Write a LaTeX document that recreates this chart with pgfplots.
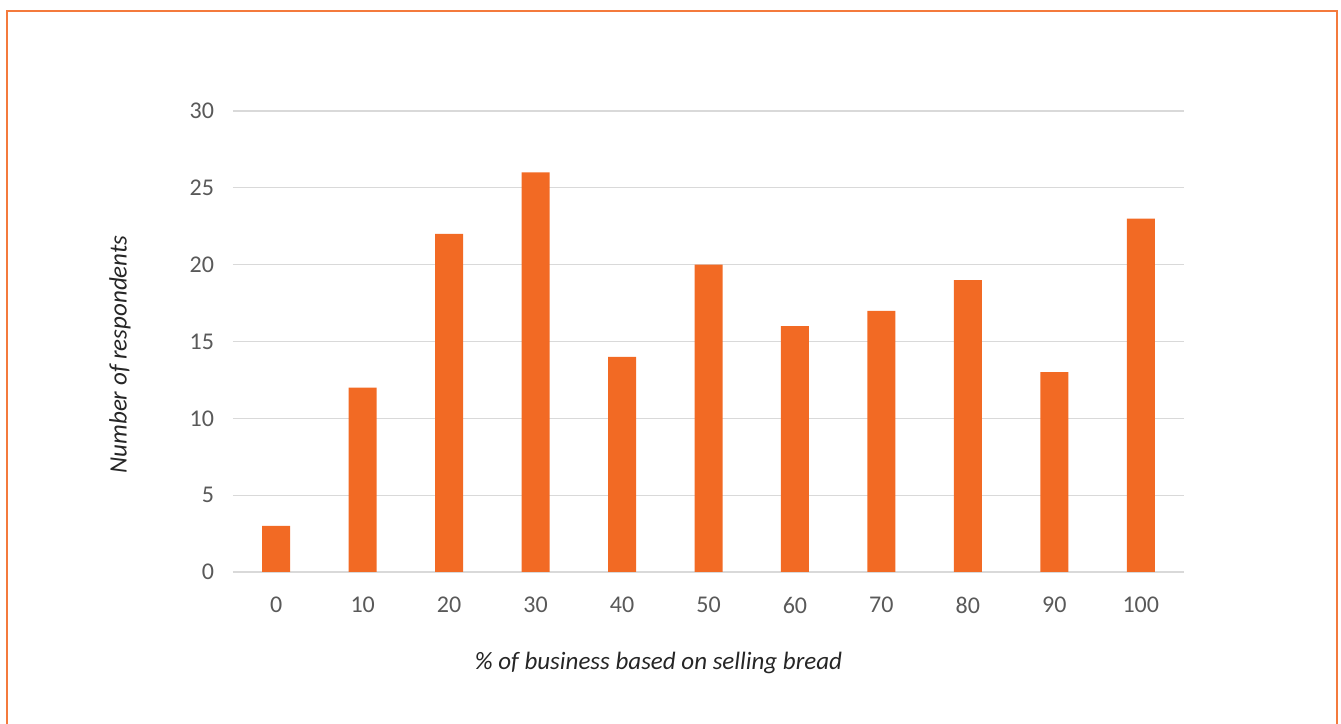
\documentclass[border=0pt]{standalone}
\usepackage{pgfplots}
\pgfplotsset{compat=1.18}
\usepackage{fontspec}
\setmainfont{Carlito}
\definecolor{barorange}{HTML}{F26A24}
\definecolor{frameorange}{HTML}{F47A3C}
\definecolor{gridgray}{HTML}{D9D9D9}
\definecolor{ticktext}{HTML}{595959}
\begin{document}
\begin{tikzpicture}
\useasboundingbox (0,0) rectangle (670.5pt,362pt);
\draw[frameorange, line width=1.3pt] (3.5pt,0pt) -- (3.5pt,356.5pt) -- (668.5pt,356.5pt) -- (668.5pt,0pt);
\begin{axis}[
  at={(116.5pt,76pt)}, anchor=south west,
  scale only axis, width=475.5pt, height=230.5pt,
  xmin=-0.5, xmax=10.5, ymin=0, ymax=30,
  ytick={0,5,...,30},
  xtick={0,1,...,10},
  xticklabels={0,10,20,30,40,50,60,70,80,90,100},
  axis line style={draw=none},
  ymajorgrids, grid style={gridgray, line width=0.6pt},
  major tick length=0pt,
  tick label style={font=\fontsize{12}{14}\selectfont, text=ticktext},
  /pgf/number format/assume math mode=true,
  xticklabel style={yshift=-9pt},
  yticklabel style={xshift=-6pt},
  xlabel={\textit{\% of business based on selling bread}},
  ylabel={\textit{Number of respondents}},
  label style={font=\fontsize{12.5}{14}\selectfont, text=black!85},
  xlabel style={at={(axis description cs:0.5,0)}, anchor=center, yshift=-45.5pt, xshift=-25pt},
  ylabel style={at={(axis description cs:0,0.5)}, anchor=center, yshift=56.5pt, xshift=-6.5pt},
  clip=false,
]
\draw[gridgray, line width=0.8pt] (axis cs:-0.5,0) -- (axis cs:10.5,0);
\addplot[ybar, bar width=14pt, fill=barorange, draw=none] coordinates {
(0,3) (1,12) (2,22) (3,26) (4,14) (5,20) (6,16) (7,17) (8,19) (9,13) (10,23)};
\end{axis}
\end{tikzpicture}
\end{document}
